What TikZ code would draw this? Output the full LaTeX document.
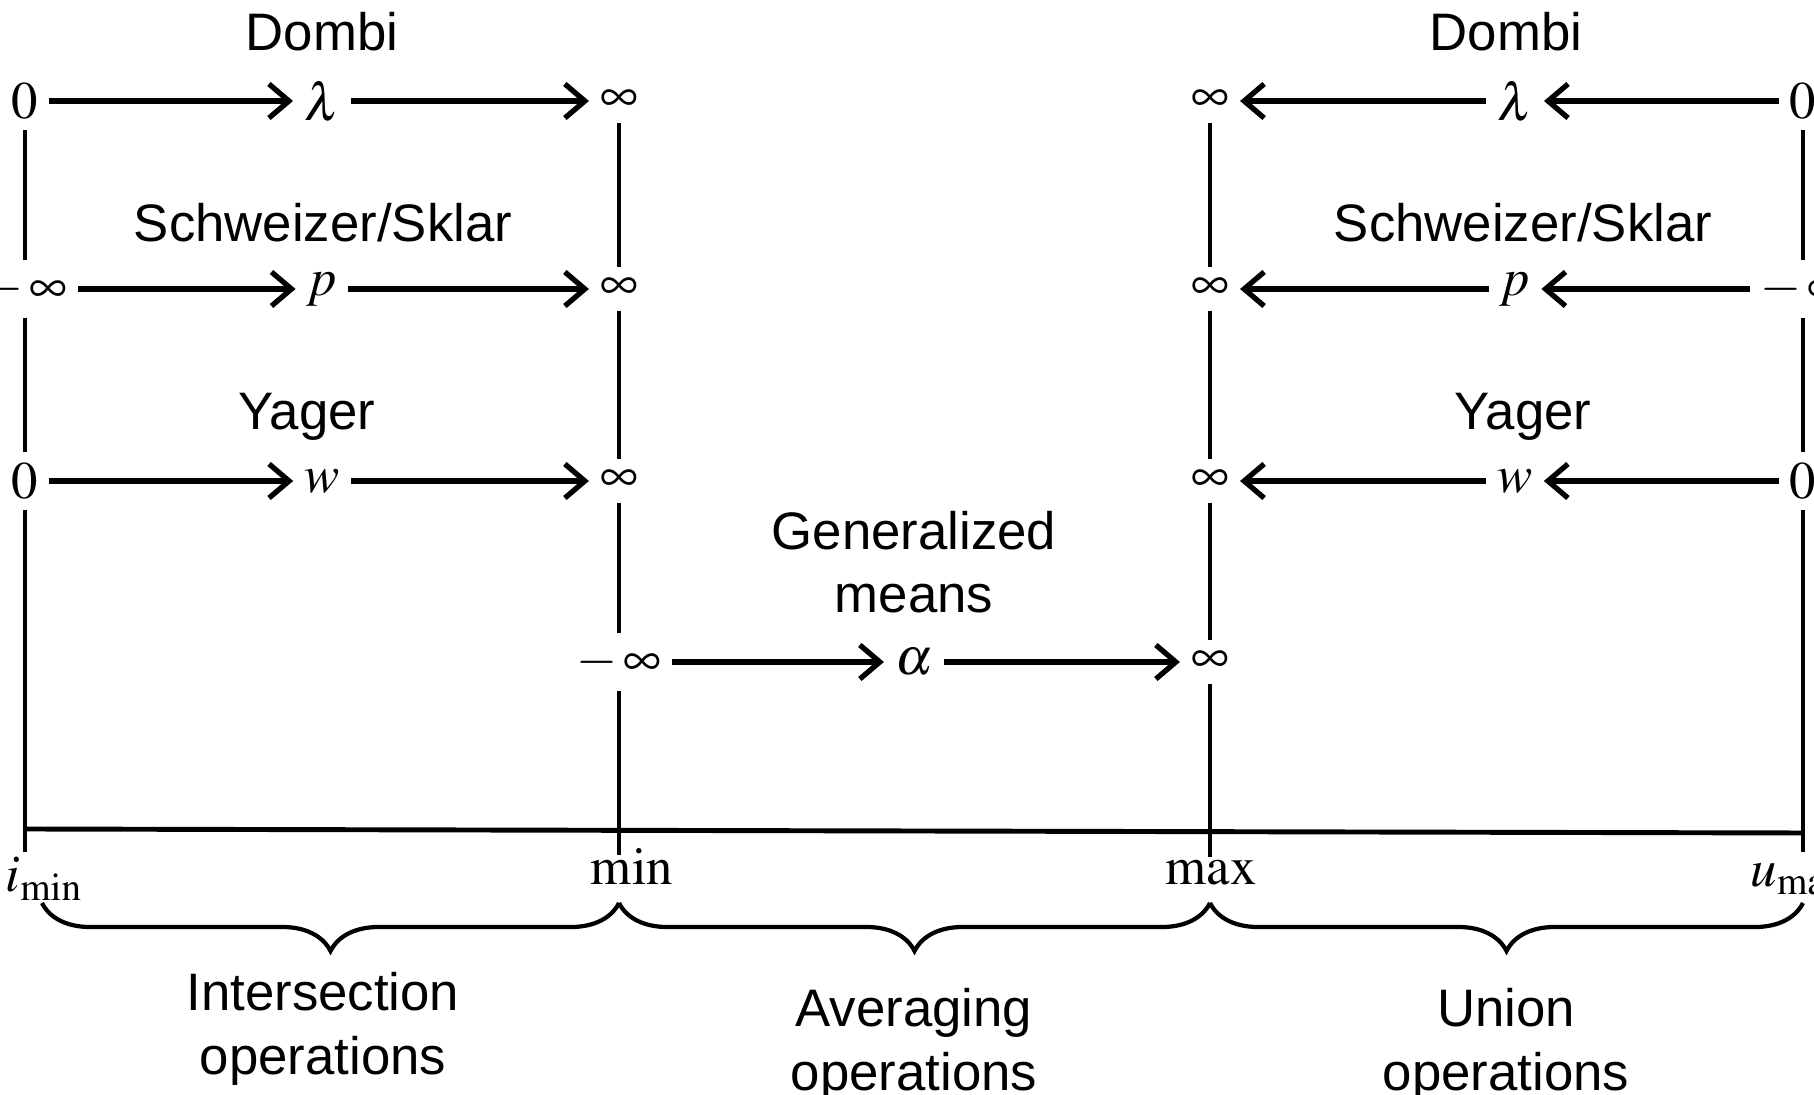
\documentclass[tikz,border=0pt]{standalone}
\usepackage{mathptmx}
\usepackage[no-math]{fontspec}
\newfontfamily\labelfont{Liberation Sans}
\usetikzlibrary{arrows.meta,decorations.pathreplacing}

\tikzset{
  val/.style={inner sep=3pt},
  lbl/.style={font=\labelfont\fontsize{15}{18}\selectfont, align=center},
  arr/.style={line width=1.5pt, -{Straight Barb[length=2mm,width=3.4mm]}},
  vline/.style={line width=1.2pt},
  brc/.style={line width=1.2pt, decorate, decoration={brace, mirror, amplitude=4.8mm}},
}

\begin{document}
\begin{tikzpicture}[x=0.01cm, y=-0.01cm, font=\fontsize{15}{18}\selectfont]
\useasboundingbox (0,0) rectangle (1814,1095);

% intersection side
\node[val] (ia1) at (25,101) {$0$};
\node[val] (ib1) at (322,101) {$\lambda$};
\node[val] (ic1) at (619,101) {$\infty$};
\node[val] (ia2) at (25,289) {$-\,\infty$};
\node[val] (ib2) at (322,289) {$p$};
\node[val] (ic2) at (619,289) {$\infty$};
\node[val] (ia3) at (25,481) {$0$};
\node[val] (ib3) at (322,481) {$w$};
\node[val] (ic3) at (619,481) {$\infty$};
\node[lbl] (idombi) at (322,32) {Dombi};
\node[lbl] (ischw) at (323,223) {Schweizer/Sklar};
\node[lbl] (iyager) at (307,417) {Yager};

% averaging
\node[val] (ma) at (619,662) {$-\,\infty$};
\node[val] (mb) at (914,662) {$\alpha$};
\node[val] (mc) at (1210,662) {$\infty$};
\node[lbl] (mgen) at (914,562) {Generalized\\means};

% union side
\node[val] (ua1) at (1803,101) {$0$};
\node[val] (ub1) at (1515,101) {$\lambda$};
\node[val] (uc1) at (1210,101) {$\infty$};
\node[val] (ua2) at (1803,289) {$-\,\infty$};
\node[val] (ub2) at (1515,289) {$p$};
\node[val] (uc2) at (1210,289) {$\infty$};
\node[val] (ua3) at (1803,481) {$0$};
\node[val] (ub3) at (1515,481) {$w$};
\node[val] (uc3) at (1210,481) {$\infty$};
\node[lbl] (udombi) at (1506,32) {Dombi};
\node[lbl] (uschw) at (1523,223) {Schweizer/Sklar};
\node[lbl] (uyager) at (1523,417) {Yager};

\draw[arr] (ia1) -- (ib1);
\draw[arr] (ib1) -- (ic1);
\draw[arr] (ia2) -- (ib2);
\draw[arr] (ib2) -- (ic2);
\draw[arr] (ia3) -- (ib3);
\draw[arr] (ib3) -- (ic3);
\draw[arr] (ma) -- (mb);
\draw[arr] (mb) -- (mc);
\draw[arr] (ua1) -- (ub1);
\draw[arr] (ub1) -- (uc1);
\draw[arr] (ua2) -- (ub2);
\draw[arr] (ub2) -- (uc2);
\draw[arr] (ua3) -- (ub3);
\draw[arr] (ub3) -- (uc3);

% axis
\coordinate (ie) at (25,852);
\coordinate (me) at (619,855);
\coordinate (xe) at (1210,857);
\coordinate (ue) at (1803,852);
\coordinate (bl) at (25,829);
\coordinate (br) at (1803,833);
\draw[vline] (ia1) -- (ia2) -- (ia3) -- (ie);
\draw[vline] (ic1) -- (ic2) -- (ic3) -- (ma) -- (me);
\draw[vline] (uc1) -- (uc2) -- (uc3) -- (mc) -- (xe);
\draw[vline] (ua1) -- (ua2) -- (ua3) -- (ue);
\draw[line width=1.4pt] (bl) -- (br);

\node[anchor=west, inner sep=0pt] (imin) at (5,879) {$i_{\min}$};
\node (minl) at (632,866) {$\min$};
\node (maxl) at (1211,873) {$\max$};
\node[anchor=west, inner sep=0pt] (umax) at (1750,879) {$u_{\max}$};

% braces
\draw[brc] (42,903) -- (619,903);
\draw[brc] (619,903) -- (1210,903);
\draw[brc] (1210,903) -- (1803,903);
\node[lbl] (inter) at (323,1029) {Intersection\\operations};
\node[lbl] (aver) at (914,1045) {Averaging\\operations};
\node[lbl] (union) at (1506,1045) {Union\\operations};
\end{tikzpicture}
\end{document}
